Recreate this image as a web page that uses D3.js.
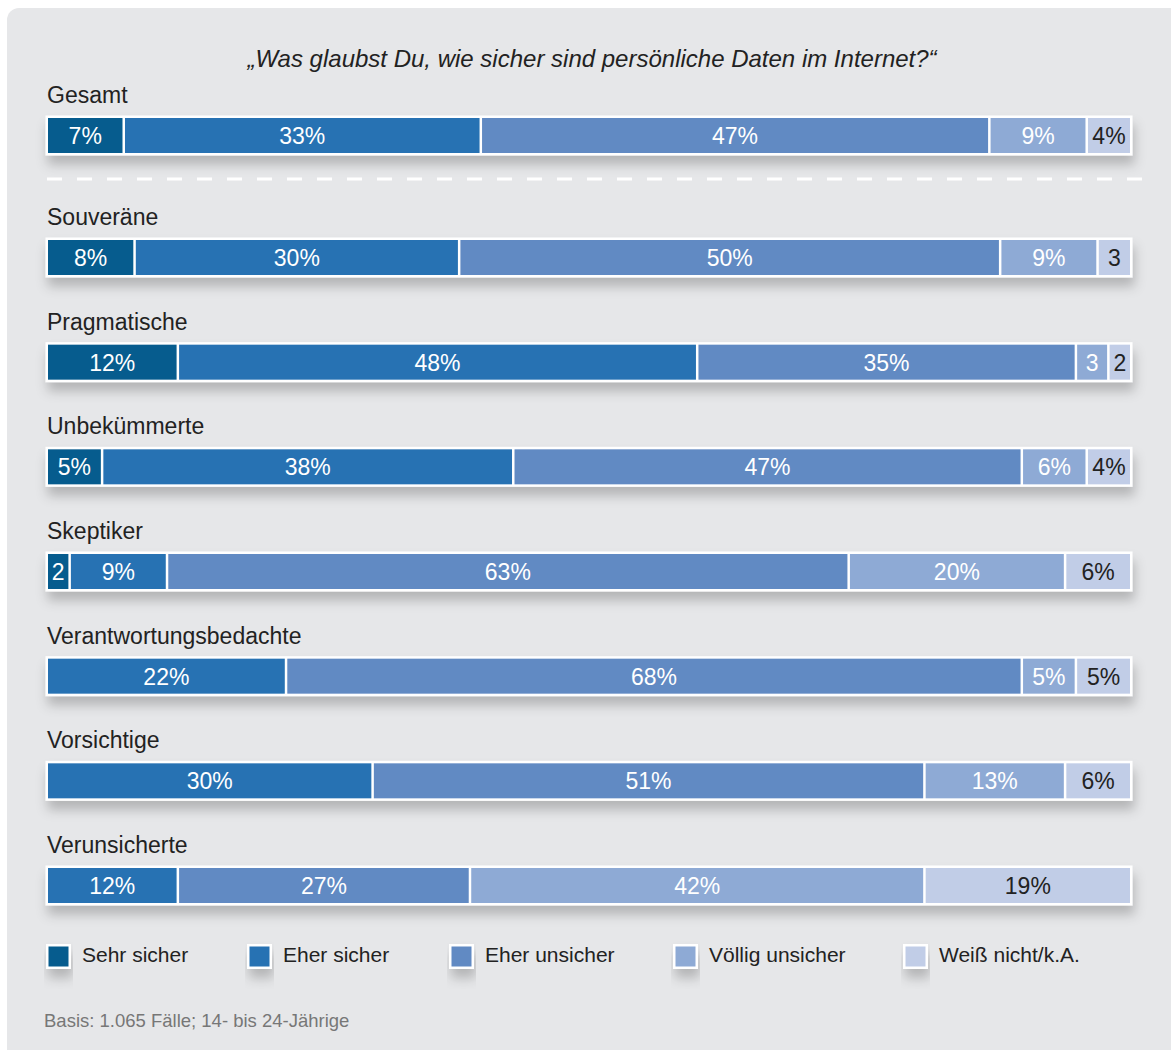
<!DOCTYPE html>
<html>
<head>
<meta charset="utf-8">
<script src="https://cdn.jsdelivr.net/npm/d3@7"></script>
<style>
  html, body { margin: 0; padding: 0; background: #ffffff; }
  svg { display: block; font-family: "Liberation Sans", Arial, Helvetica, sans-serif; }
</style>
</head>
<body>
<svg id="chart" width="1171" height="1050"></svg>
<script>
// Survey groups (first row is the total, separated by a dashed rule)
const categories = ["Gesamt", "Souveräne", "Pragmatische", "Unbekümmerte", "Skeptiker",
                    "Verantwortungsbedachte", "Vorsichtige", "Verunsicherte"];

// Answer options
const answers = ["Sehr sicher", "Eher sicher", "Eher unsicher", "Völlig unsicher", "Weiß nicht/k.A."];

// Shares in percent per answer, in category order
const sehrSicher     = [7, 8, 12, 5, 2, 0, 0, 0];
const eherSicher     = [33, 30, 48, 38, 9, 22, 30, 12];
const eherUnsicher   = [47, 50, 35, 47, 63, 68, 51, 27];
const voelligUnsicher = [9, 9, 3, 6, 20, 5, 13, 42];
const weissNicht     = [4, 3, 2, 4, 6, 5, 6, 19];

const title = "„Was glaubst Du, wie sicher sind persönliche Daten im Internet?“";
const footnote = "Basis: 1.065 Fälle; 14- bis 24-Jährige";

const colors = ["#065c8e", "#2772b3", "#618ac3", "#8eaad5", "#c1cde7"];

const seriesArrays = [sehrSicher, eherSicher, eherUnsicher, voelligUnsicher, weissNicht];
const rows = categories.map((c, i) => {
  const r = { category: c };
  answers.forEach((a, k) => { r[a] = seriesArrays[k][i]; });
  return r;
});

const svg = d3.select("#chart");
const defs = svg.append("defs");
const shadow = defs.append("filter").attr("id", "shadow")
  .attr("x", "-5%").attr("y", "-40%").attr("width", "110%").attr("height", "220%");
shadow.append("feDropShadow")
  .attr("dx", 2).attr("dy", 9).attr("stdDeviation", 6)
  .attr("flood-color", "#000").attr("flood-opacity", 0.22);

// Panel background
svg.append("rect")
  .attr("x", 7).attr("y", 8).attr("width", 1180).attr("height", 1060)
  .attr("rx", 12).attr("fill", "#e6e7e9");

// Scales
const x = d3.scaleLinear().domain([0, 100]).range([48, 1130]);
const yRest = d3.scaleLinear().domain([1, 7]).range([240, 868]);
const yTop = i => (i === 0 ? 118 : yRest(i));
const barH = 35;
const color = d3.scaleOrdinal().domain(answers).range(colors);

// Title
svg.append("text")
  .attr("x", 592).attr("y", 67)
  .attr("text-anchor", "middle")
  .attr("font-size", 24).attr("font-style", "italic")
  .attr("fill", "#222")
  .text(title);

// Dashed separator under the total
svg.append("line")
  .attr("x1", 47).attr("x2", 1142).attr("y1", 179).attr("y2", 179)
  .attr("stroke", "#ffffff").attr("stroke-width", 3)
  .attr("stroke-dasharray", "15 15");

const stacked = d3.stack().keys(answers)(rows);

const rowG = svg.selectAll("g.row")
  .data(rows)
  .join("g")
  .attr("class", "row")
  .attr("transform", (d, i) => `translate(0,${yTop(i)})`);

// Group labels
rowG.append("text")
  .attr("x", 47).attr("y", -15)
  .attr("font-size", 23).attr("fill", "#222")
  .text(d => d.category);

// White frame behind each bar, carrying the shadow
rowG.append("rect")
  .attr("x", x(0) - 2.5).attr("y", -2.5)
  .attr("width", x(100) - x(0) + 5).attr("height", barH + 5)
  .attr("fill", "#ffffff")
  .attr("filter", "url(#shadow)");

// Segments
stacked.forEach((layer, k) => {
  layer.forEach((seg, i) => {
    const v = seg[1] - seg[0];
    if (v <= 0) return;
    const g = rowG.filter((d, j) => j === i);
    const x0 = x(seg[0]) + (seg[0] > 0 ? 1.25 : 0);
    const x1 = x(seg[1]) - (seg[1] < 100 ? 1.25 : 0);
    g.append("rect")
      .attr("x", x0).attr("y", 0)
      .attr("width", x1 - x0).attr("height", barH)
      .attr("fill", color(layer.key));
    g.append("text")
      .attr("x", (x0 + x1) / 2).attr("y", barH / 2 + 8.5)
      .attr("text-anchor", "middle")
      .attr("font-size", 23)
      .attr("fill", k === 4 ? "#222" : "#ffffff")
      .text(v >= 4 ? v + "%" : String(v));
  });
});

// Legend
const legendX = [46, 247, 449, 673, 903];
const leg = svg.selectAll("g.legend")
  .data(answers)
  .join("g")
  .attr("class", "legend")
  .attr("transform", (d, i) => `translate(${legendX[i]},944)`);
leg.append("rect")
  .attr("width", 25).attr("height", 25)
  .attr("fill", "#ffffff")
  .attr("filter", "url(#shadow)");
leg.append("rect")
  .attr("x", 2.5).attr("y", 2.5).attr("width", 20).attr("height", 20)
  .attr("fill", d => color(d));
leg.append("text")
  .attr("x", 36).attr("y", 18)
  .attr("font-size", 21).attr("fill", "#222")
  .text(d => d);

// Footnote
svg.append("text")
  .attr("x", 44).attr("y", 1027)
  .attr("font-size", 18.5).attr("fill", "#777")
  .text(footnote);
</script>
</body>
</html>
